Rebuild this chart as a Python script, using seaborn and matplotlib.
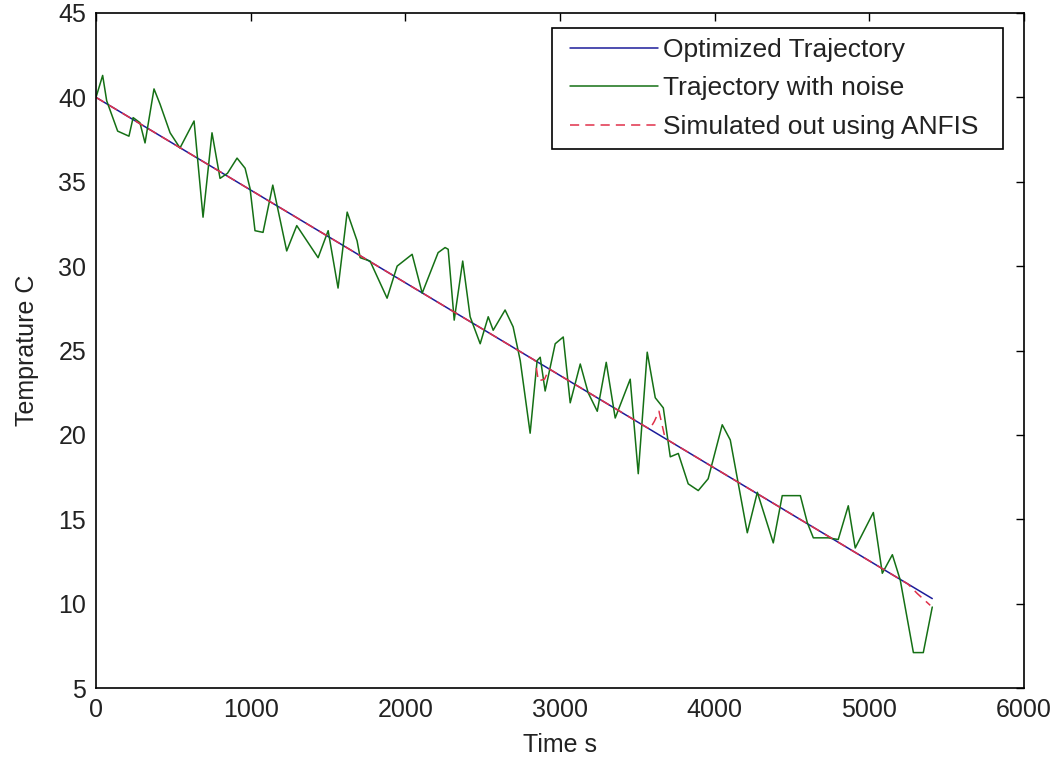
import numpy as np
import pandas as pd
import matplotlib
matplotlib.use("Agg")
import matplotlib.pyplot as plt
import seaborn as sns
from matplotlib.offsetbox import HPacker, DrawingArea

# ---- data ----
noise_t = [0, 43, 69, 140, 213, 240, 284, 317, 375, 414, 479, 543, 634, 692, 750, 802,
           850, 912, 964, 996, 1028, 1080, 1143, 1233, 1298, 1436, 1501, 1565, 1624,
           1688, 1708, 1772, 1882, 1947, 2044, 2109, 2212, 2257, 2277, 2316, 2371,
           2419, 2484, 2536, 2568, 2645, 2697, 2743, 2807, 2852, 2872, 2904, 2969,
           3021, 3066, 3131, 3182, 3241, 3299, 3357, 3454, 3506, 3564, 3616, 3668,
           3713, 3765, 3829, 3894, 3958, 4049, 4101, 4211, 4276, 4379, 4437, 4554,
           4599, 4638, 4735, 4799, 4864, 4909, 5026, 5084, 5149, 5200, 5285, 5349, 5407]
noise_y = [40.0, 41.3, 39.8, 38.0, 37.7, 38.8, 38.5, 37.3, 40.5, 39.6, 37.9, 37.0, 38.6,
           32.9, 37.9, 35.2, 35.5, 36.4, 35.8, 34.6, 32.1, 32.0, 34.8, 30.9, 32.4, 30.5,
           32.1, 28.7, 33.2, 31.5, 30.5, 30.3, 28.1, 30.0, 30.7, 28.4, 30.8, 31.1, 31.0,
           26.8, 30.3, 27.0, 25.4, 27.0, 26.2, 27.4, 26.4, 24.4, 20.1, 24.4, 24.6, 22.6,
           25.4, 25.8, 21.9, 24.2, 22.5, 21.4, 24.3, 21.0, 23.3, 17.7, 24.9, 22.2, 21.6,
           18.7, 18.9, 17.1, 16.7, 17.4, 20.6, 19.7, 14.2, 16.6, 13.6, 16.4, 16.4, 14.8,
           13.9, 13.9, 13.8, 15.8, 13.3, 15.4, 11.8, 12.9, 11.4, 7.1, 7.1, 9.8]

opt_t = [0, 5407]
opt_y = [40.0, 10.3]

anfis_t = [0, 2800, 2840, 2860, 2900, 2930, 3580, 3610, 3640, 3680, 5250, 5310, 5394]
anfis_y = [40.0, 24.62, 24.40, 23.2, 23.3, 23.91, 20.34, 20.8, 21.4, 19.79, 11.16, 10.6, 9.9]

labels = ["Optimized Trajectory", "Trajectory with noise", "Simulated out using ANFIS"]
x_ticks = [0, 1000, 2000, 3000, 4000, 5000, 6000]
y_ticks = [5, 10, 15, 20, 25, 30, 35, 40, 45]

sns.set_theme(style="white")
plt.rcParams["font.family"] = ["Liberation Sans", "DejaVu Sans"]
plt.rcParams["xtick.direction"] = "in"
plt.rcParams["ytick.direction"] = "in"

fig = plt.figure(figsize=(10.62, 7.59), dpi=100)
ax = fig.add_axes([0.0904, 0.0935, 0.8738, 0.8894])

df_opt = pd.DataFrame({"t": opt_t, "y": opt_y})
df_noise = pd.DataFrame({"t": noise_t, "y": noise_y})
df_anfis = pd.DataFrame({"t": anfis_t, "y": anfis_y})

sns.lineplot(data=df_opt, x="t", y="y", ax=ax, color="#1c1c9a", linewidth=1.1,
             estimator=None, sort=False, label=labels[0])
sns.lineplot(data=df_noise, x="t", y="y", ax=ax, color="#157015", linewidth=1.1,
             estimator=None, sort=False, label=labels[1])
sns.lineplot(data=df_anfis, x="t", y="y", ax=ax, color="#e0304a", linewidth=1.1,
             estimator=None, sort=False, label=labels[2])
ax.lines[-1].set_dashes([6, 4])

ax.set_xlim(0, 6000)
ax.set_ylim(5, 45)
ax.set_xticks(x_ticks)
ax.set_yticks(y_ticks)
ax.tick_params(axis="both", which="both", direction="in", length=6, width=1,
               color="black", labelsize=18, top=True, right=True,
               labelcolor="#222222", pad=7)
for s in ax.spines.values():
    s.set_visible(True)
    s.set_color("black")
    s.set_linewidth(1.2)

ax.set_xlabel("Time s", fontsize=18, color="#222222", labelpad=8)
ax.set_ylabel("Temprature C", fontsize=18, color="#222222", labelpad=14)

leg = ax.legend(loc="upper right", bbox_to_anchor=(0.977, 0.978), fontsize=19,
                frameon=True, fancybox=False, shadow=False, framealpha=1,
                edgecolor="black", handlelength=3.3, handletextpad=0.22,
                labelspacing=0.55, borderpad=0.38, borderaxespad=0)
leg.get_frame().set_linewidth(1.2)
for t in leg.get_texts():
    t.set_color("#222222")

# extra blank space at both sides inside the legend box (as in the reference)
try:
    hb = leg._legend_handle_box
    newbox = HPacker(pad=0, sep=0,
                     children=[DrawingArea(6, 1), hb, DrawingArea(10, 1)],
                     align="baseline")
    newbox.set_figure(fig)
    kids = leg._legend_box._children
    idx = kids.index(hb)
    kids[idx] = newbox
except Exception:
    pass

fig.savefig("out.png", dpi=100, facecolor="white")
